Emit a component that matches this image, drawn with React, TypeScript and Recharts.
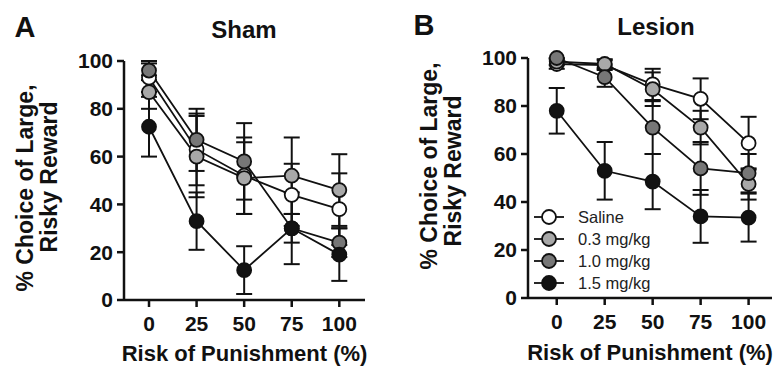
import React from 'react';
import { LineChart, Line, XAxis, YAxis, ErrorBar, Label, Legend } from 'recharts';

const riskLevels = [0, 25, 50, 75, 100];
const xTicks = [0, 25, 50, 75, 100];
const yTicks = [0, 20, 40, 60, 80, 100];
const groupNames = ['Saline', '0.3 mg/kg', '1.0 mg/kg', '1.5 mg/kg'];
const groupFills = ['#ffffff', '#a8a8a8', '#777777', '#121212'];

// Panel A: Sham
const shamSaline = [93, 63, 52, 44, 38];
const shamSalineErr = [6, 15, 16, 13, 15];
const shamLow = [87, 60, 51, 52, 46];
const shamLowErr = [7, 17, 15, 16, 15];
const shamMid = [96, 67, 58, 30, 24];
const shamMidErr = [4, 13, 16, 6, 6];
const shamHigh = [72.5, 33, 12.5, 30, 19];
const shamHighErr = [12.5, 12, 10, 15, 11];

// Panel B: Lesion
const lesSaline = [97.5, 97, 89, 83, 64.5];
const lesSalineErr = [2, 2, 6.5, 8.5, 11];
const lesLow = [98.5, 97.5, 87, 71, 47.5];
const lesLowErr = [1.5, 2, 7, 7, 6.5];
const lesMid = [100, 92, 71, 54, 52];
const lesMidErr = [0, 4, 11, 11, 8];
const lesHigh = [78, 53, 48.5, 34, 33.5];
const lesHighErr = [9.5, 12, 11.5, 11, 10];

const buildRows = (means: number[][], errs: number[][]) =>
  riskLevels.map((x, i) => {
    const row: Record<string, number> = { x };
    means.forEach((m, g) => {
      row['m' + g] = m[i];
      row['e' + g] = errs[g][i];
    });
    return row;
  });

const shamRows = buildRows(
  [shamSaline, shamLow, shamMid, shamHigh],
  [shamSalineErr, shamLowErr, shamMidErr, shamHighErr]
);
const lesRows = buildRows(
  [lesSaline, lesLow, lesMid, lesHigh],
  [lesSalineErr, lesLowErr, lesMidErr, lesHighErr]
);

const FONT = '"Liberation Sans", Arial, Helvetica, sans-serif';
const INK = '#111111';

const YTitle = (axisX: number, cy1: number, cy2: number) => () => {
  const x1 = axisX - 99;
  const x2 = axisX - 75;
  const st = { fontSize: 23, fontWeight: 700, fill: INK, fontFamily: FONT } as React.CSSProperties;
  return (
    <g>
      <text x={x1} y={cy1} transform={`rotate(-90 ${x1} ${cy1})`} textAnchor="middle" dominantBaseline="central" style={st}>
        % Choice of Large,
      </text>
      <text x={x2} y={cy2} transform={`rotate(-90 ${x2} ${cy2})`} textAnchor="middle" dominantBaseline="central" style={st}>
        Risky Reward
      </text>
    </g>
  );
};

const LegendBox = () => (
  <svg width={170} height={95} style={{ display: 'block' }}>
    {groupNames.map((name, i) => {
      const cy = 12 + 22 * i;
      return (
        <g key={name}>
          <line x1={4} x2={34} y1={cy} y2={cy} stroke={INK} strokeWidth={1.8} />
          <circle cx={19} cy={cy} r={7} fill={groupFills[i]} stroke={INK} strokeWidth={1.8} />
          <text x={48} y={cy} dominantBaseline="central" style={{ fontSize: 16.5, fill: '#222', fontFamily: FONT }}>
            {name}
          </text>
        </g>
      );
    })}
  </svg>
);

type PanelProps = {
  rows: Record<string, number>[];
  width: number;
  margin: { top: number; right: number; bottom: number; left: number };
  yAxisWidth: number;
  xDomain: [number, number];
  titleOffset: number;
  yTitleCy1: number;
  yTitleCy2: number;
  showLegend: boolean;
};

const tickStyle = { fontSize: 21, fontWeight: 700, fill: INK, fontFamily: FONT };

const Panel = ({ rows, width, margin, yAxisWidth, xDomain, titleOffset, yTitleCy1, yTitleCy2, showLegend }: PanelProps) => (
  <LineChart width={width} height={368} data={rows} margin={margin}>
    <XAxis
      dataKey="x"
      type="number"
      domain={xDomain}
      ticks={xTicks}
      interval={0}
      tickSize={7}
      tickMargin={9}
      tick={tickStyle}
      axisLine={{ stroke: INK, strokeWidth: 2.5 }}
      tickLine={{ stroke: INK, strokeWidth: 2.5 }}
      height={40}
    >
      <Label
        value="Risk of Punishment (%)"
        position="bottom"
        offset={titleOffset}
        style={{ fontSize: 22, fontWeight: 700, fill: INK, fontFamily: FONT }}
      />
    </XAxis>
    <YAxis
      type="number"
      domain={[0, 100]}
      ticks={yTicks}
      interval={0}
      tickSize={7}
      tickMargin={4}
      tick={tickStyle}
      axisLine={{ stroke: INK, strokeWidth: 2.5 }}
      tickLine={{ stroke: INK, strokeWidth: 2.5 }}
      width={yAxisWidth}
    >
      <Label content={YTitle(yAxisWidth + margin.left, yTitleCy1, yTitleCy2)} />
    </YAxis>
    {showLegend && (
      <Legend
        layout="vertical"
        align="center"
        verticalAlign="middle"
        wrapperStyle={{ left: 140, top: 205, width: 170, height: 95, margin: 0, padding: 0 }}
        content={() => <LegendBox />}
      />
    )}
    {groupNames.map((name, g) => (
      <Line
        key={name}
        name={name}
        dataKey={'m' + g}
        type="linear"
        stroke={INK}
        strokeWidth={1.8}
        dot={{ r: 7, fill: groupFills[g], stroke: INK, strokeWidth: 1.8 }}
        activeDot={false}
        isAnimationActive={false}
      >
        <ErrorBar dataKey={'e' + g} direction="y" width={8} stroke={INK} strokeWidth={2} />
      </Line>
    ))}
  </LineChart>
);

export default function App() {
  const headSt = { fontWeight: 700, fill: INK, fontFamily: FONT } as React.CSSProperties;
  return (
    <div
      style={{
        position: 'absolute',
        left: 0,
        top: 0,
        width: 779,
        height: 368,
        background: '#ffffff',
        fontFamily: FONT,
        overflow: 'hidden',
      }}
    >
      <div style={{ position: 'absolute', left: 0, top: 0 }}>
        <Panel
          rows={shamRows}
          width={390}
          margin={{ top: 61, right: 25, bottom: 28, left: 0 }}
          yAxisWidth={124}
          xDomain={[-13.14, 113.5]}
          titleOffset={5}
          yTitleCy1={188}
          yTitleCy2={177}
          showLegend={false}
        />
      </div>
      <div style={{ position: 'absolute', left: 390, top: 0 }}>
        <Panel
          rows={lesRows}
          width={389}
          margin={{ top: 58, right: 7, bottom: 30, left: 0 }}
          yAxisWidth={138}
          xDomain={[-14.98, 112.2]}
          titleOffset={6}
          yTitleCy1={166}
          yTitleCy2={171}
          showLegend={true}
        />
      </div>
      <svg
        width={779}
        height={368}
        style={{ position: 'absolute', left: 0, top: 0, pointerEvents: 'none' }}
      >
        <text x={25} y={37} textAnchor="middle" style={{ ...headSt, fontSize: 29 }}>A</text>
        <text x={244} y={38} textAnchor="middle" style={{ ...headSt, fontSize: 24 }}>Sham</text>
        <text x={424} y={35} textAnchor="middle" style={{ ...headSt, fontSize: 29 }}>B</text>
        <text x={656} y={35} textAnchor="middle" style={{ ...headSt, fontSize: 24 }}>Lesion</text>
      </svg>
    </div>
  );
}
